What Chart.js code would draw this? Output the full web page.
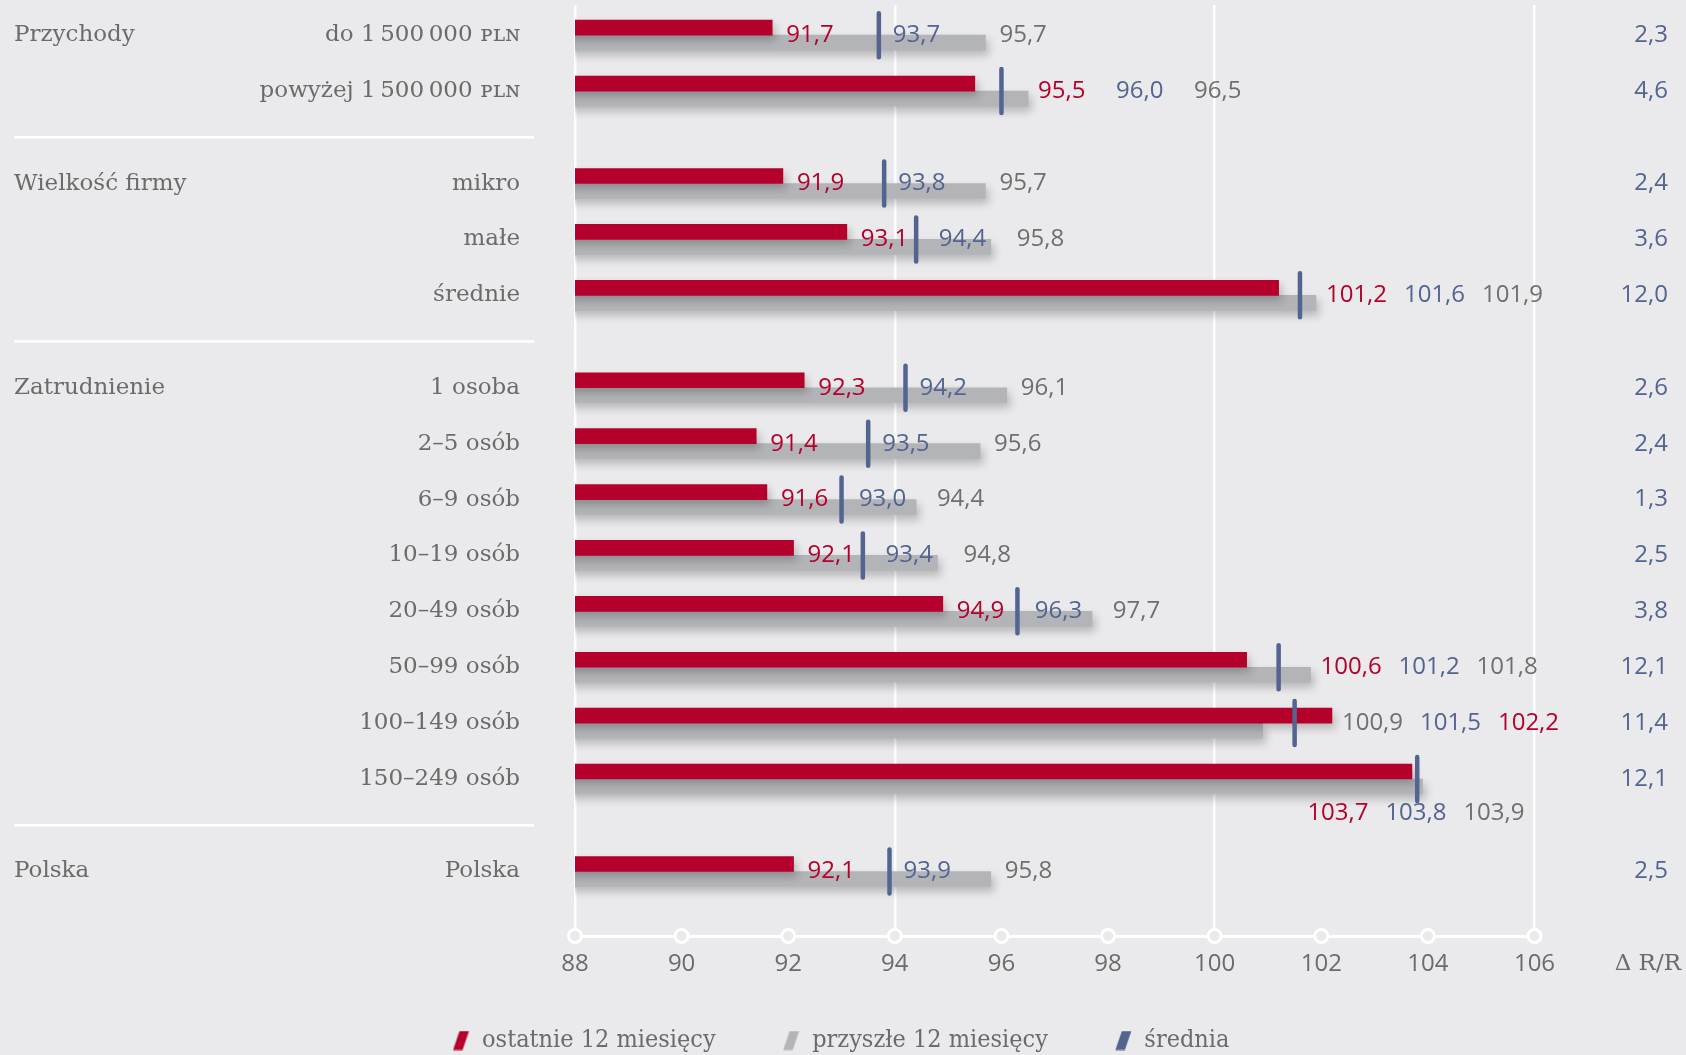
<!DOCTYPE html>
<html lang="pl">
<head>
<meta charset="utf-8">
<title>Ocena koniunktury</title>
<script src="https://cdn.jsdelivr.net/npm/chart.js@4/dist/chart.umd.min.js"></script>
<style>
  html, body { margin: 0; padding: 0; background: #eaeaec; }
  canvas { display: block; }
</style>
</head>
<body>
<canvas id="chart" width="1686" height="1055"></canvas>
<script>
const groups = ['Przychody', 'Wielkość firmy', 'Zatrudnienie', 'Polska'];
const groupSizes = [2, 3, 8, 1];
const categories = [
  'do 1\u202F500\u202F000 ᴘʟɴ', 'powyżej 1\u202F500\u202F000 ᴘʟɴ',
  'mikro', 'małe', 'średnie',
  '1 osoba', '2–5 osób', '6–9 osób', '10–19 osób', '20–49 osób',
  '50–99 osób', '100–149 osób', '150–249 osób',
  'Polska'
];
const last12 = [91.7, 95.5, 91.9, 93.1, 101.2, 92.3, 91.4, 91.6, 92.1, 94.9, 100.6, 102.2, 103.7, 92.1];
const average = [93.7, 96.0, 93.8, 94.4, 101.6, 94.2, 93.5, 93.0, 93.4, 96.3, 101.2, 101.5, 103.8, 93.9];
const next12 = [95.7, 96.5, 95.7, 95.8, 101.9, 96.1, 95.6, 94.4, 94.8, 97.7, 101.8, 100.9, 103.9, 95.8];
const deltaRR = [2.3, 4.6, 2.4, 3.6, 12.0, 2.6, 2.4, 1.3, 2.5, 3.8, 12.1, 11.4, 12.1, 2.5];
const seriesNames = ['ostatnie 12 miesięcy', 'przyszłe 12 miesięcy', 'średnia'];
const xMin = 88, xMax = 106, xStep = 2;

const RED = '#b4002a';
const GREY_BAR = '#b3b4b8';
const BLUE = '#52648f';
const TEXT = '#6b6b6b';
const GREY_TEXT = '#6f6f6f';
const BG = '#eaeaec';
const SERIF = "'DejaVu Serif', serif";
const SERIF_NARROW = "'DejaVu Serif Condensed', 'DejaVu Serif', serif";
const SANS = "'Open Sans', sans-serif";

// rows sit one unit apart, with a smaller extra gap between groups
const GROUP_GAP = 0.655;
const Y_MIN = -0.54, Y_MAX = 16.12;
const rowPos = [];
const groupStart = [];
groupSizes.forEach((n, g) => {
  groupStart.push(rowPos.length);
  for (let k = 0; k < n; k++) rowPos.push(rowPos.length + g * GROUP_GAP);
});

const fmt = v => v.toFixed(1).replace('.', ',');
const points = values => values.map((v, i) => ({ x: v, y: rowPos[i] }));

function legendMark(color) {
  const c = document.createElement('canvas');
  c.width = 17;
  c.height = 20;
  const g = c.getContext('2d');
  g.fillStyle = color;
  g.beginPath();
  g.moveTo(7, 0.5);
  g.lineTo(16.5, 0.5);
  g.lineTo(10, 19.5);
  g.lineTo(0.5, 19.5);
  g.closePath();
  g.fill();
  return c;
}
const markColors = [RED, GREY_BAR, BLUE];

const LABEL_PAD = 14;
const LABEL_STEP = 78;

const decor = {
  id: 'decor',
  afterLayout(chart) {
    // nudge the legend a little closer to the bottom edge
    chart.legend.top += 8;
    chart.legend.bottom += 8;
  },
  beforeDatasetDraw(chart, args) {
    const ctx = chart.ctx;
    ctx.save();
    if (args.meta.type === 'bar') {
      ctx.shadowColor = 'rgba(0, 0, 0, 0.22)';
      ctx.shadowBlur = 8;
      ctx.shadowOffsetX = 3;
      ctx.shadowOffsetY = 5;
    } else {
      ctx.lineCap = 'round';
    }
  },
  afterDatasetDraw(chart) {
    chart.ctx.restore();
  },
  afterDatasetsDraw(chart) {
    const { ctx, chartArea, scales: { x, y } } = chart;
    ctx.save();

    // hollow markers on the value axis
    ctx.lineWidth = 3;
    ctx.strokeStyle = '#ffffff';
    ctx.fillStyle = BG;
    x.ticks.forEach(t => {
      ctx.beginPath();
      ctx.arc(x.getPixelForValue(t.value), chartArea.bottom, 6.5, 0, Math.PI * 2);
      ctx.fill();
      ctx.stroke();
    });

    // value labels, ordered by value and pushed right so they never collide
    ctx.font = '24px ' + SANS;
    ctx.textBaseline = 'middle';
    ctx.textAlign = 'left';
    rowPos.forEach((pos, i) => {
      const items = [
        { v: last12[i], color: RED },
        { v: average[i], color: BLUE },
        { v: next12[i], color: GREY_TEXT }
      ].map(it => ({
        ...it,
        text: fmt(it.v),
        px: x.getPixelForValue(it.v),
        w: ctx.measureText(fmt(it.v)).width
      })).sort((a, b) => a.v - b.v);

      const maxMark = Math.max(...items.map(it => it.px));
      let prev = -Infinity;
      items.forEach((it, k) => {
        let lx = Math.max(it.px + LABEL_PAD, prev + LABEL_STEP);
        const hits = items.slice(k + 1).some(o => o.px > lx - 3 && o.px < lx + it.w + 3);
        if (hits) lx = Math.max(lx, maxMark + 10);
        it.lx = lx;
        prev = lx;
      });

      let ly = y.getPixelForValue(pos);
      const lastItem = items[items.length - 1];
      if (lastItem.lx + lastItem.w > chartArea.right + 50) {
        // no room on the right: put the values under the bars
        ly += 34;
        const end = chartArea.right - 10 - lastItem.w;
        items.forEach((it, k) => { it.lx = end - (items.length - 1 - k) * LABEL_STEP; });
      }
      items.forEach(it => {
        ctx.fillStyle = it.color;
        ctx.fillText(it.text, it.lx, ly);
      });
    });
    ctx.restore();
  },
  afterDraw(chart) {
    const { ctx, chartArea, scales: { y } } = chart;
    ctx.save();
    // separators between groups
    ctx.strokeStyle = '#ffffff';
    ctx.lineWidth = 2.5;
    groupStart.slice(1).forEach(start => {
      const mid = (y.getPixelForValue(rowPos[start - 1]) + y.getPixelForValue(rowPos[start])) / 2;
      ctx.beginPath();
      ctx.moveTo(14, mid);
      ctx.lineTo(534, mid);
      ctx.stroke();
    });
    // header of the change column
    ctx.font = '23px ' + SERIF;
    ctx.fillStyle = TEXT;
    ctx.textAlign = 'right';
    ctx.textBaseline = 'middle';
    ctx.fillText('Δ R/R', 1681, chartArea.bottom + 28.5);
    ctx.restore();
  }
};

// the label columns must not reserve extra room above and below the plot
const fixWidth = w => s => {
  s.width = w;
  s.paddingTop = 0;
  s.paddingBottom = 0;
};

const rowAxis = (extra) => Object.assign({
  type: 'linear',
  reverse: true,
  offset: false,
  min: Y_MIN,
  max: Y_MAX,
  grid: { display: false, drawTicks: false, offset: false },
  border: { display: false }
}, extra);

new Chart(document.getElementById('chart'), {
  data: {
    datasets: [
      {
        type: 'bar',
        label: seriesNames[0],
        data: points(last12),
        backgroundColor: RED,
        barThickness: 15,
        xAxisID: 'x',
        yAxisID: 'y'
      },
      {
        type: 'bar',
        label: seriesNames[1],
        data: points(next12),
        backgroundColor: GREY_BAR,
        barThickness: 15,
        xAxisID: 'x',
        yAxisID: 'y'
      },
      {
        type: 'scatter',
        label: seriesNames[2],
        data: points(average),
        pointStyle: 'line',
        rotation: 90,
        radius: 22,
        hoverRadius: 22,
        borderWidth: 4.5,
        borderColor: BLUE,
        backgroundColor: BLUE,
        order: -1,
        xAxisID: 'x',
        yAxisID: 'y'
      }
    ]
  },
  options: {
    indexAxis: 'y',
    responsive: false,
    animation: false,
    devicePixelRatio: 1,
    layout: {
      autoPadding: false,
      padding: { top: 5, left: 14, right: 18, bottom: 0 }
    },
    scales: {
      x: {
        type: 'linear',
        position: 'bottom',
        min: xMin,
        max: xMax,
        ticks: {
          stepSize: xStep,
          color: TEXT,
          padding: 14,
          font: { family: SANS, size: 24 }
        },
        grid: {
          drawTicks: false,
          lineWidth: 2.5,
          color: c => (c.tick && (c.tick.value - xMin) % 6 === 0) ? '#ffffff' : 'rgba(0,0,0,0)'
        },
        border: { display: true, color: '#ffffff', width: 3 },
        afterFit: s => { s.height = 62; }
      },
      y: rowAxis({
        position: 'left',
        weight: 0,
        afterBuildTicks: s => { s.ticks = rowPos.map(v => ({ value: v })); },
        ticks: {
          autoSkip: false,
          padding: 55,
          color: TEXT,
          font: { family: SERIF, size: 23 },
          callback: (v, i) => categories[i]
        },
        afterFit: fixWidth(361)
      }),
      yGroup: rowAxis({
        position: 'left',
        weight: 1,
        afterBuildTicks: s => { s.ticks = groupStart.map(i => ({ value: rowPos[i] })); },
        ticks: {
          autoSkip: false,
          crossAlign: 'far',
          padding: 0,
          color: TEXT,
          font: { family: SERIF, size: 23 },
          callback: (v, i) => groups[i]
        },
        afterFit: fixWidth(200)
      }),
      yDelta: rowAxis({
        position: 'right',
        afterBuildTicks: s => { s.ticks = rowPos.map(v => ({ value: v })); },
        ticks: {
          autoSkip: false,
          crossAlign: 'far',
          padding: 0,
          color: BLUE,
          font: { family: SANS, size: 24 },
          callback: (v, i) => fmt(deltaRR[i])
        },
        afterFit: fixWidth(133.5)
      })
    },
    plugins: {
      tooltip: { enabled: false },
      legend: {
        position: 'bottom',
        labels: {
          usePointStyle: true,
          pointStyleWidth: 17,
          padding: 22,
          color: TEXT,
          font: { family: SERIF_NARROW, size: 25 },
          generateLabels: chart => chart.data.datasets.map((ds, i, all) => ({
            text: ds.label + (i < all.length - 1 ? '\u2003\u2003' : ''),
            pointStyle: legendMark(markColors[i]),
            fillStyle: markColors[i],
            strokeStyle: markColors[i],
            lineWidth: 0,
            fontColor: TEXT,
            hidden: false,
            datasetIndex: i
          }))
        }
      }
    }
  },
  plugins: [decor]
});
</script>
</body>
</html>
